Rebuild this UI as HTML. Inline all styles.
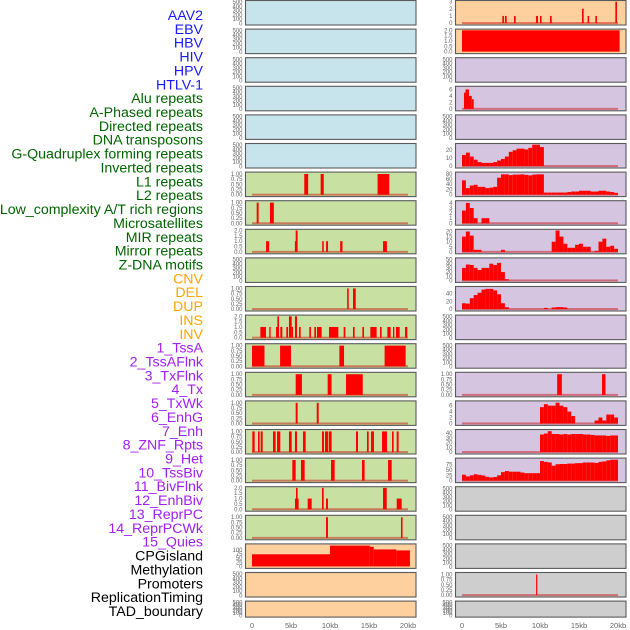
<!DOCTYPE html>
<html><head><meta charset="utf-8"><style>
html,body{margin:0;padding:0;background:#fff;}
svg{display:block;font-family:"Liberation Sans",sans-serif;}
</style></head><body>
<svg id="chart" width="630" height="630" viewBox="0 0 630 630" xmlns="http://www.w3.org/2000/svg">
<g id="labels"></g>
<g id="panels"></g>
<g id="xaxes"></g>
</svg>
<script>
// ---- labels ----
const trackLabels = ["AAV2","EBV","HBV","HIV","HPV","HTLV-1","Alu repeats","A-Phased repeats","Directed repeats","DNA transposons","G-Quadruplex forming repeats","Inverted repeats","L1 repeats","L2 repeats","Low_complexity A/T rich regions","Microsatellites","MIR repeats","Mirror repeats","Z-DNA motifs","CNV","DEL","DUP","INS","INV","1_TssA","2_TssAFlnk","3_TxFlnk","4_Tx","5_TxWk","6_EnhG","7_Enh","8_ZNF_Rpts","9_Het","10_TssBiv","11_BivFlnk","12_EnhBiv","13_ReprPC","14_ReprPCWk","15_Quies","CPGisland","Methylation","Promoters","ReplicationTiming","TAD_boundary"];
const labelGroups = ["virus","virus","virus","virus","virus","virus","repeat","repeat","repeat","repeat","repeat","repeat","repeat","repeat","repeat","repeat","repeat","repeat","repeat","sv","sv","sv","sv","sv","hmm","hmm","hmm","hmm","hmm","hmm","hmm","hmm","hmm","hmm","hmm","hmm","hmm","hmm","hmm","other","other","other","other","other"];

// ---- x axis ----
const xTickKb = [0,5,10,15,20];
const xTickLabels = ["0","5kb","10kb","15kb","20kb"];

// ---- tick label sets ----
const ticksEmpty = ["0","100","200","300","400","500"];
const ticksUnit = ["0.00","0.25","0.50","0.75","1.00"];
const ticksTwo = ["0.0","0.5","1.0","1.5","2.0"];

// ---- interval data [startKb, endKb, value] ----
const aluIv = [[6.7,7.2,1],[8.8,9.2,1],[16.1,17.6,1]];
const aphasedIv = [[0.6,0.85,1],[2.3,2.8,1]];
const directedIv = [[1.8,2.2,1],[5.5,5.6,1],[5.6,5.85,2],[9.0,9.2,1],[9.5,9.75,1],[11.3,11.6,1],[16.8,17.3,1]];
const gquadIv = [[12.2,12.4,1],[12.95,13.3,1]];
const invertedIv = [[1.07,1.79,1],[2.22,2.39,1],[3.08,3.29,1],[3.25,3.46,2],[3.63,3.89,1],[4.4,4.62,1],[4.74,5.09,2],[5.09,5.26,1],[5.51,5.77,2],[6.03,6.24,1],[7.35,7.56,1],[7.99,8.2,1],[8.33,8.93,1],[9.87,11.07,1],[11.75,11.97,1],[12.95,13.16,1],[14.15,14.36,1],[15.17,15.98,1],[16.41,16.62,1],[17.35,17.78,1],[18.08,18.25,1],[18.46,18.93,1],[19.62,19.91,1]];
const l1Iv = [[0,1.6,1],[3.6,5.0,1],[11.2,11.8,1],[17.0,19.7,1]];
const l2Iv = [[5.6,6.4,1],[9.7,10.2,1],[12.05,14.2,1]];
const lowcompIv = [[5.6,5.85,1],[8.3,8.55,1]];
const microIv = [[0.04,0.34,1],[0.77,0.98,1],[1.11,1.37,1],[2.69,3.03,1],[3.21,3.63,1],[4.74,5.09,1],[5.51,5.77,1],[6.54,6.88,1],[8.97,9.23,1],[9.36,9.74,1],[9.83,10.21,1],[13.33,13.59,1],[14.74,14.96,1],[15.26,15.64,1],[16.67,17.31,1],[17.95,18.16,1],[18.55,18.8,1]];
const mirIv = [[5.17,5.6,1],[6.28,6.75,1],[10.13,10.6,1],[14.1,14.44,1],[17.44,17.91,1]];
const mirrorIv = [[5.51,5.98,1],[5.64,5.85,2],[7.14,7.65,1],[8.97,9.19,2],[9.49,9.74,1],[16.8,17.27,2],[18.55,19.19,1]];
const zdnaIv = [[9.49,9.74,1],[19.1,19.3,1]];
const cnvIv = [[0,10,73],[10,15.1,125],[15.1,15.6,118],[15.6,18.5,102],[18.5,20.25,96]];
const insIv = [[5.17,5.38,1],[5.51,5.73,1],[6.67,6.88,1],[9.49,9.74,1],[10.0,10.2,1],[11.28,11.5,1],[15.38,15.6,2],[16.1,16.3,1],[17.1,17.3,1],[19.66,19.87,3]];
const invIv = [[0,20.2,2]];
const tssaflnkIv = [[0.25,0.45,5],[0.45,0.9,6],[0.9,1.25,4],[1.25,1.5,3]];
const znfIv = [[12.2,12.8,1],[17.95,18.4,1]];
const promoterIv = [[9.5,9.65,1]];

// ---- binned data (0.5kb bins from 0kb) ----
const enhBins = [14,17,12,8,5,4,4,4,5,7,9,12,18,20,22,22,21,23,27,27,24,0,0,0,0,0,0,0,0,0,0,0,0,0,0,0,0,0,0,0];
const znfBins = [55,25,35,38,30,30,25,27,30,65,78,78,75,77,77,78,76,74,77,78,78,8,8,8,8,8,8,10,12,12,15,15,15,12,12,15,15,12,10,7];
const hetBins = [2.5,4,3,1,0,1,1,0,0,0,0,0,0,0,0,0,0,0,0,0,0,0,0,0,0,0,0,0,0,0,0,0,0,0,0,0,0,0,0,0];
const tssbivBins = [15,20,16,2,2,0,0,0,0,0,2,0,0,0,0,0,0,0,0,0,0,0,0,10,21,15,8,4,4,7,8,5,5,0,1,10,13,5,6,3];
const bivflnkBins = [30,38,37,30,25,30,30,40,37,42,20,3,0,0,0,0,0,0,0,0,0,0,0,0,0,0,0,0,0,0,0,0,0,0,0,0,0,0,0,0];
const enhbivBins = [15,14,28,36,42,50,52,52,48,38,15,5,0,0,0,0,0,0,0,0,0,3,0,4,5,5,4,0,0,0,0,0,0,0,0,0,0,0,0,0];
const quiesBins = [0,0,0,0,0,0,0,0,0,0,0,0,0,0,0,0,0,0,0,0,5.5,6.5,6,6,7,6,5.5,4,2.5,0,0,0,0,0,1,2,1,3,3,2];
const cpgBins = [0,0,0,0,0,0,0,0,0,0,0,0,0,0,0,0,0,0,0,0,37,39,44,38,38,37,38,37,38,38,38,37,37,36,35,35,35,34,35,35];
const methylBins = [28,20,25,30,27,24,18,15,17,25,40,45,42,42,42,38,35,35,35,35,92,88,85,70,77,78,78,80,80,82,82,85,85,85,83,88,90,95,98,98];

const BLUE="#c7e3eb", GREEN="#c8e1a3", ORANGE="#fed09e", PURPLE="#d5c5e1", GRAY="#cecece";
const panels = [
 {c:0,r:0,bg:BLUE},{c:0,r:1,bg:BLUE},{c:0,r:2,bg:BLUE},{c:0,r:3,bg:BLUE},{c:0,r:4,bg:BLUE},{c:0,r:5,bg:BLUE},
 {c:0,r:6,bg:GREEN,iv:aluIv,ymax:1,ticks:ticksUnit},
 {c:0,r:7,bg:GREEN,iv:aphasedIv,ymax:1,ticks:ticksUnit},
 {c:0,r:8,bg:GREEN,iv:directedIv,ymax:2,ticks:ticksTwo},
 {c:0,r:9,bg:GREEN},
 {c:0,r:10,bg:GREEN,iv:gquadIv,ymax:1,ticks:ticksUnit},
 {c:0,r:11,bg:GREEN,iv:invertedIv,ymax:2,ticks:ticksTwo},
 {c:0,r:12,bg:GREEN,iv:l1Iv,ymax:1,ticks:ticksUnit},
 {c:0,r:13,bg:GREEN,iv:l2Iv,ymax:1,ticks:ticksUnit},
 {c:0,r:14,bg:GREEN,iv:lowcompIv,ymax:1,ticks:ticksUnit},
 {c:0,r:15,bg:GREEN,iv:microIv,ymax:1,ticks:ticksUnit},
 {c:0,r:16,bg:GREEN,iv:mirIv,ymax:1,ticks:ticksUnit},
 {c:0,r:17,bg:GREEN,iv:mirrorIv,ymax:2,ticks:ticksTwo},
 {c:0,r:18,bg:GREEN,iv:zdnaIv,ymax:1,ticks:ticksUnit},
 {c:0,r:19,bg:ORANGE,iv:cnvIv,ymax:128,ticks:["0","25","50","75","100"],tickStep:25,nobase:true},
 {c:0,r:20,bg:ORANGE},{c:0,r:21,bg:ORANGE},
 {c:1,r:0,bg:ORANGE,iv:insIv,ymax:3,ticks:["0","1","2","3"],tickStep:1},
 {c:1,r:1,bg:ORANGE,iv:invIv,ymax:2,ticks:ticksTwo,nobase:true},
 {c:1,r:2,bg:PURPLE},
 {c:1,r:3,bg:PURPLE,iv:tssaflnkIv,ymax:6.6,ticks:["0","2","4","6"],tickStep:2},
 {c:1,r:4,bg:PURPLE},
 {c:1,r:5,bg:PURPLE,bins:enhBins,ymax:27,ticks:["0","10","20"],tickStep:10},
 {c:1,r:6,bg:PURPLE,bins:znfBins,ymax:82,ticks:["0","20","40","60","80"],tickStep:20},
 {c:1,r:7,bg:PURPLE,bins:hetBins,ymax:4.2,ticks:["0","1","2","3","4"],tickStep:1},
 {c:1,r:8,bg:PURPLE,bins:tssbivBins,ymax:21,ticks:["0","5","10","15","20"],tickStep:5},
 {c:1,r:9,bg:PURPLE,bins:bivflnkBins,ymax:51,ticks:["0","10","20","30","40","50"],tickStep:10},
 {c:1,r:10,bg:PURPLE,bins:enhbivBins,ymax:55,ticks:["0","20","40"],tickStep:20},
 {c:1,r:11,bg:PURPLE},{c:1,r:12,bg:PURPLE},
 {c:1,r:13,bg:PURPLE,iv:znfIv,ymax:1,ticks:ticksUnit},
 {c:1,r:14,bg:PURPLE,bins:quiesBins,ymax:7.2,ticks:["0","2","4","6"],tickStep:2},
 {c:1,r:15,bg:PURPLE,bins:cpgBins,ymax:45,ticks:["0","10","20","30","40"],tickStep:10},
 {c:1,r:16,bg:PURPLE,bins:methylBins,ymax:100,ticks:["0","25","50","75"],tickStep:25},
 {c:1,r:17,bg:GRAY},{c:1,r:18,bg:GRAY},{c:1,r:19,bg:GRAY},
 {c:1,r:20,bg:GRAY,iv:promoterIv,ymax:1,ticks:ticksUnit},
 {c:1,r:21,bg:GRAY}
];

const NS="http://www.w3.org/2000/svg";
function mk(tag, attrs, parent){const e=document.createElementNS(NS,tag);for(const k in attrs)e.setAttribute(k,attrs[k]);parent.appendChild(e);return e;}
const colX=[245.5,455.5], colW=170.5;
const kb0=[252,462], pxPerKb=7.8;
function xScale(c,kb){return kb0[c]+kb*pxPerKb;}
function rowTop(r){return 0.5+28.6*r;}
function rowH(r){return r===21?16:24.5;}

const colors={virus:"#1a1aff",repeat:"#006400",sv:"#ffa500",hmm:"#a020f0",other:"#000000"};
const lg=document.getElementById('labels');
trackLabels.forEach((t,i)=>{
  const e=mk('text',{x:203,y:15+13.86*i+5,'text-anchor':'end','font-size':'14.2',fill:colors[labelGroups[i]]},lg);
  e.textContent=t;
  
  
});

const pg=document.getElementById('panels');
panels.forEach(p=>{
  const g=mk('g',{},pg);
  const name=trackLabels[p.c*22+p.r];
  
  
  const top=rowTop(p.r), h=rowH(p.r), left=colX[p.c];
  mk('rect',{x:left,y:top,width:colW,height:h,fill:p.bg},g);
  const inTop=top+1.2, inBot=top+h-1.2;
  let ymax, ymin, ticks, step;
  if(!p.ticks){ymax=510;ymin=-10;ticks=ticksEmpty;step=100;}
  else{ymax=p.ymax;ymin=-0.035*p.ymax;ticks=p.ticks;step=p.tickStep|| (p.ymax===2?0.5:0.25);
    if(p.ymax===1){ymax=1.035;}}
  const ys=v=>inBot-(v-ymin)/(ymax-ymin)*(inBot-inTop);
  ticks.forEach((t,i)=>{
    const e=mk('text',{x:left-3,y:ys(i*step)+2,'text-anchor':'end','font-size':'6',fill:'#666'},g);
    e.textContent=t;
    
    
  });
  if(p.iv||p.bins){
    if(!p.nobase){
      const b=mk('rect',{x:xScale(p.c,0),y:ys(0)-1,width:20*pxPerKb,height:2,fill:'rgba(200,0,0,0.45)'},g);
      
      
    }
    const segs=[];
    if(p.iv) p.iv.forEach(d=>segs.push(d));
    if(p.bins) p.bins.forEach((v,i)=>{if(v>0)segs.push([i*0.5,i*0.5+0.5,v]);});
    segs.forEach(d=>{
      const x1=xScale(p.c,d[0]), x2=xScale(p.c,d[1]);
      const y1=ys(d[2]), y0=ys(0);
      const r=mk('rect',{x:x1,y:y1,width:Math.max(1.2,x2-x1),height:Math.max(0,y0-y1),fill:'#ff0000'},g);
      
      
    });
  }
  mk('rect',{x:left,y:top,width:colW,height:h,fill:'none',stroke:'#5a5a5a','stroke-width':1.1},g);
});

const xg=document.getElementById('xaxes');
[0,1].forEach(c=>{
  xTickKb.forEach((k,i)=>{
    const e=mk('text',{x:xScale(c,k),y:628,'text-anchor':'middle','font-size':'7.5',fill:'#666'},xg);
    e.textContent=xTickLabels[i];
    
    
  });
});
</script>
</body></html>
